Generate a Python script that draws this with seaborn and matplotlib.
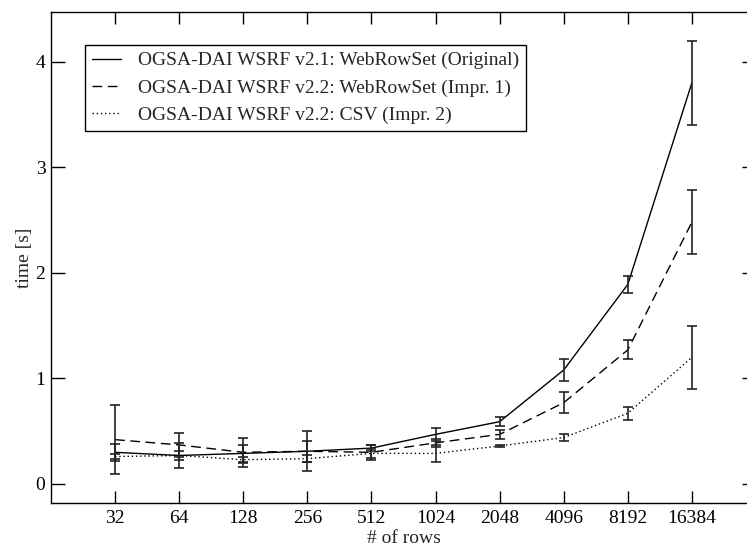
import matplotlib
matplotlib.use("Agg")
import matplotlib.pyplot as plt
import seaborn as sns
import pandas as pd
import numpy as np

rows = ["32", "64", "128", "256", "512", "1024", "2048", "4096", "8192", "16384"]

series_names = [
    "OGSA-DAI WSRF v2.1: WebRowSet (Original)",
    "OGSA-DAI WSRF v2.2: WebRowSet (Impr. 1)",
    "OGSA-DAI WSRF v2.2: CSV (Impr. 2)",
]

# mean times [s]
orig_time = [0.30, 0.27, 0.29, 0.31, 0.34, 0.47, 0.59, 1.08, 1.89, 3.80]
impr1_time = [0.42, 0.37, 0.30, 0.31, 0.30, 0.39, 0.47, 0.77, 1.27, 2.48]
impr2_time = [0.26, 0.27, 0.23, 0.24, 0.29, 0.29, 0.36, 0.44, 0.67, 1.20]

# error bar half-widths [s]
orig_err = [0.08, 0.12, 0.08, 0.19, 0.03, 0.06, 0.04, 0.10, 0.08, 0.40]
impr1_err = [0.33, 0.11, 0.14, 0.10, 0.07, 0.04, 0.04, 0.10, 0.09, 0.30]
impr2_err = [0.02, 0.04, 0.03, 0.03, 0.04, 0.08, 0.01, 0.03, 0.06, 0.30]

times = [orig_time, impr1_time, impr2_time]
errs = [orig_err, impr1_err, impr2_err]

df = pd.concat(
    [pd.DataFrame({"rows": rows, "time": t, "err": e, "series": name})
     for name, t, e in zip(series_names, times, errs)],
    ignore_index=True,
)

sns.set_style("ticks")
plt.rcParams["font.family"] = ["Liberation Serif", "DejaVu Serif"]

fig = plt.figure(figsize=(7.47, 5.49), dpi=100)
ax = fig.add_axes([51 / 747, 46 / 549, 705 / 747, 491 / 549])

# solid / dashed / dotted like the original xmgrace plot
dash_styles = ["", (7, 4), (1, 2)]
sns.lineplot(data=df, x="rows", y="time", style="series", dashes=dash_styles,
             color="black", linewidth=1.0, ax=ax, sort=False)

pos = np.arange(len(rows))
for t, e in zip(times, errs):
    ax.errorbar(pos, t, yerr=e, fmt="none", ecolor="#222222",
                elinewidth=1.2, capsize=3.5, capthick=1.2)

ax.set_xlim(-1, 10)
ax.set_ylim(-0.18, 4.47)
ax.set_yticks([0, 1, 2, 3, 4])
ax.set_xticks(pos)
ax.set_xticklabels(rows)

ax.tick_params(axis="both", direction="in", top=True, right=True,
               labelsize=14, width=1.0, colors="black")
ax.tick_params(axis="x", length=8.5, pad=5)
ax.tick_params(axis="y", length=10, pad=4)
for s in ax.spines.values():
    s.set_linewidth(1.0)
    s.set_color("black")

ax.set_xlabel("# of rows", fontsize=14, labelpad=2)
ax.set_ylabel("time [s]", fontsize=14, labelpad=2)

handles, labels = ax.get_legend_handles_labels()
leg = ax.legend(handles, labels, loc="upper left",
                bbox_to_anchor=((85 - 51) / 705, (503 - 45) / 491),
                borderaxespad=0, fontsize=14, frameon=True, fancybox=False,
                edgecolor="black", framealpha=1, handlelength=1.5,
                handletextpad=0.9, labelspacing=0.5, borderpad=0.35)
leg.get_frame().set_linewidth(1.0)

fig.savefig("out.png", dpi=100)
